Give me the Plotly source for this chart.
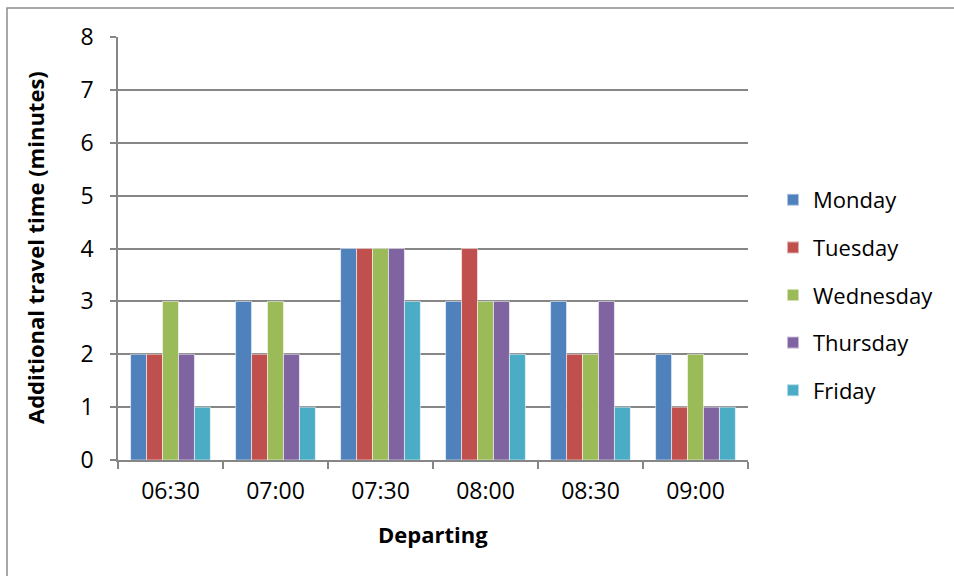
import plotly.graph_objects as go

departing = ["06:30", "07:00", "07:30", "08:00", "08:30", "09:00"]
days = ["Monday", "Tuesday", "Wednesday", "Thursday", "Friday"]
monday = [2, 3, 4, 3, 3, 2]
tuesday = [2, 2, 4, 4, 2, 1]
wednesday = [3, 3, 4, 3, 2, 2]
thursday = [2, 2, 4, 3, 3, 1]
friday = [1, 1, 3, 2, 1, 1]
series = [monday, tuesday, wednesday, thursday, friday]
colors = ["#4F81BD", "#C0504D", "#9BBB59", "#8064A2", "#4BACC6"]

W, H = 954, 576
L, R, T, B = 118, 748, 37, 460  # plot area in pixels
FONT = "Open Sans"
GRID = "#868686"

fig = go.Figure()
for name, vals, col in zip(days, series, colors):
    fig.add_trace(go.Bar(
        x=departing, y=vals, name=name, legendgroup=name,
        marker=dict(color=col, line=dict(color="rgba(255,255,255,0.55)", width=1)),
    ))

def px_x(p):
    return (p - L) / (R - L)

def px_y(p):
    return (B - p) / (B - T)

fig.update_layout(
    width=W, height=H,
    margin=dict(l=L, r=W - R, t=T, b=H - B, pad=0),
    paper_bgcolor="white", plot_bgcolor="white",
    barmode="group", bargap=0.24, bargroupgap=0,
    font=dict(family=FONT, size=22, color="#000000"),
    showlegend=True,
    legend=dict(
        x=px_x(773), y=px_y(295), xanchor="left", yanchor="middle",
        font=dict(family=FONT, size=22, color="#000000"),
        tracegroupgap=16, itemsizing="constant",
        bgcolor="rgba(0,0,0,0)",
    ),
    xaxis=dict(
        showgrid=False, showline=True, linecolor=GRID, linewidth=1.5,
        ticks="outside", ticklen=7, tickcolor=GRID, tickwidth=1.5,
        tickson="boundaries",
        tickfont=dict(family=FONT, size=23),
        ticklabelstandoff=10,
    ),
    yaxis=dict(
        range=[0, 8], dtick=1, showgrid=True, gridcolor=GRID, gridwidth=1.5,
        showline=True, linecolor=GRID, linewidth=1.5,
        ticks="outside", ticklen=6, tickcolor=GRID, tickwidth=1.5,
        tickfont=dict(family=FONT, size=23),
        ticklabelstandoff=12, zeroline=False,
    ),
)

fig.add_annotation(
    text="Departing", xref="paper", yref="paper", x=0.5, y=px_y(534),
    showarrow=False, font=dict(family=FONT, size=22, color="#000", weight="bold"),
    xanchor="center", yanchor="middle",
)
fig.add_annotation(
    text="Additional travel time (minutes)", xref="paper", yref="paper",
    x=px_x(35), y=px_y(248), textangle=-90, showarrow=False,
    font=dict(family=FONT, size=22, color="#000", weight="bold"),
    xanchor="center", yanchor="middle",
)

# chart frame
fig.add_shape(
    type="rect", xref="paper", yref="paper",
    x0=px_x(7), y0=px_y(640), x1=px_x(1000), y1=px_y(8),
    line=dict(color="#8C8C8C", width=1.5), fillcolor="rgba(0,0,0,0)", layer="below",
)

fig.write_html("out.html")
